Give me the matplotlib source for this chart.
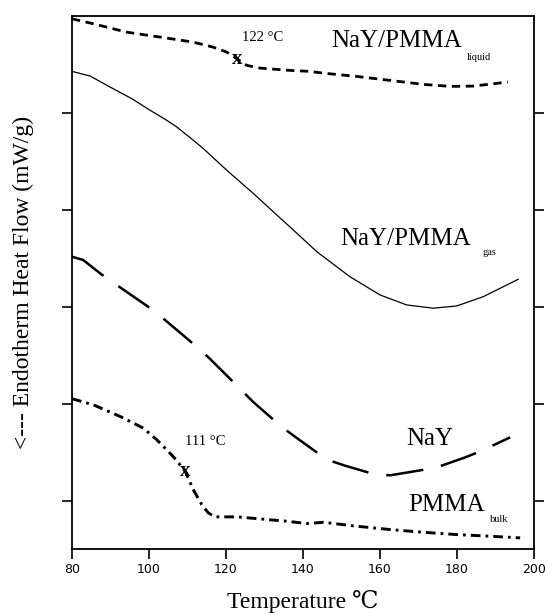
import numpy as np
import matplotlib
matplotlib.use("Agg")
import matplotlib.pyplot as plt

# DSC traces (temperature in C, heat flow in arbitrary units)
liq_T = [80, 85.5, 94.2, 102.9, 111.5, 116.6, 120.2, 122.8, 125.4, 128.8, 136.6,
         141.8, 145.2, 153.9, 162.6, 171.2, 178.2, 184.2, 193.2]
liq_Q = [5.976, 5.925, 5.838, 5.787, 5.735, 5.684, 5.632, 5.564, 5.495, 5.467, 5.443,
         5.433, 5.415, 5.381, 5.34, 5.299, 5.278, 5.281, 5.323]

gas_T = [80, 84.7, 89.9, 95.5, 100.3, 104.6, 107.2, 111.5, 114.1, 120.2, 127.1,
         132.3, 137.5, 143.6, 152.2, 160.0, 166.9, 173.8, 179.9, 186.8, 195.9]
gas_Q = [5.433, 5.385, 5.271, 5.152, 5.031, 4.928, 4.859, 4.722, 4.636, 4.412, 4.172,
         3.982, 3.794, 3.570, 3.312, 3.124, 3.021, 2.987, 3.010, 3.106, 3.286]

nay_T = [80, 82.9, 87.3, 91.6, 99.4, 103.3, 110.6, 115.4, 122.8, 127.1, 134.5,
         139.0, 146.2, 150.9, 158.3, 162.6, 169.9, 174.3, 182.1, 186.0, 193.8]
nay_Q = [3.519, 3.485, 3.347, 3.227, 3.013, 2.894, 2.649, 2.481, 2.189, 2.017, 1.760,
         1.629, 1.423, 1.361, 1.275, 1.261, 1.309, 1.337, 1.446, 1.508, 1.653]

bulk_T = [80, 85.5, 92.5, 98.5, 102.0, 105.0, 107.0, 109.4, 111.5, 113.7, 115.4,
          117.1, 122.8, 128.8, 135.8, 141.0, 145.3, 154.0, 162.6, 171.2, 179.9,
          188.6, 196.4]
bulk_Q = [2.052, 1.990, 1.869, 1.749, 1.629, 1.508, 1.423, 1.302, 1.113, 0.959, 0.873,
          0.832, 0.832, 0.811, 0.787, 0.763, 0.776, 0.735, 0.701, 0.673, 0.649,
          0.632, 0.615]

# glass transition marks
tg_liq = (122.8, 5.564)
tg_bulk = (109.4, 1.302)

xticks = [80, 100, 120, 140, 160, 180, 200]
yticks = [1, 2, 3, 4, 5]

serif = ['Liberation Serif', 'DejaVu Serif']
plt.rcParams['lines.scale_dashes'] = False

fig = plt.figure(figsize=(5.48, 6.15), dpi=100)
ax = fig.add_axes([0.1314, 0.1073, 0.8431, 0.8659])

ax.plot(liq_T, liq_Q, color='black', lw=2.0, dashes=(6, 4))
ax.plot(gas_T, gas_Q, color='black', lw=0.9)
ax.plot(nay_T, nay_Q, color='black', lw=1.8, dashes=(27, 13))
ax.plot(bulk_T, bulk_Q, color='black', lw=2.1, dashes=(7, 3.6, 2, 3.6))

ax.text(tg_liq[0], tg_liq[1], 'x', family=serif, fontweight='bold', fontsize=15,
        ha='center', va='center')
ax.text(tg_bulk[0], tg_bulk[1], 'x', family=serif, fontweight='bold', fontsize=15,
        ha='center', va='center')
ax.text(124.2, 5.75, '122 °C', family=serif, fontsize=10.5)
ax.text(109.4, 1.577, '111 °C', family=serif, fontsize=10.5)

ax.text(147.4, 5.68, 'NaY/PMMA', family=serif, fontsize=18)
ax.text(182.5, 5.546, 'liquid', family=serif, fontsize=7.5)
ax.text(149.6, 3.639, 'NaY/PMMA', family=serif, fontsize=18)
ax.text(186.7, 3.536, 'gas', family=serif, fontsize=7.5)
ax.text(166.9, 1.577, 'NaY', family=serif, fontsize=18)
ax.text(167.4, 0.890, 'PMMA', family=serif, fontsize=18)
ax.text(188.6, 0.78, 'bulk', family=serif, fontsize=7.5)

ax.set_xlim(80, 200)
ax.set_ylim(0.5, 6.0)
ax.set_xticks(xticks)
ax.set_yticks(yticks)
ax.set_yticklabels([])
ax.tick_params(axis='x', direction='out', length=7, width=1.2, labelsize=9, pad=3)
ax.tick_params(axis='y', direction='out', length=7, width=1.2, right=True)
for lab in ax.get_xticklabels():
    lab.set_family('DejaVu Sans')
for s in ax.spines.values():
    s.set_linewidth(1.3)

ax.set_xlabel('Temperature ℃', family=serif, fontsize=17, labelpad=10)
ax.set_ylabel('<--- Endotherm Heat Flow (mW/g)', family=serif, fontsize=17, labelpad=17)

fig.savefig('out.png', dpi=100)
